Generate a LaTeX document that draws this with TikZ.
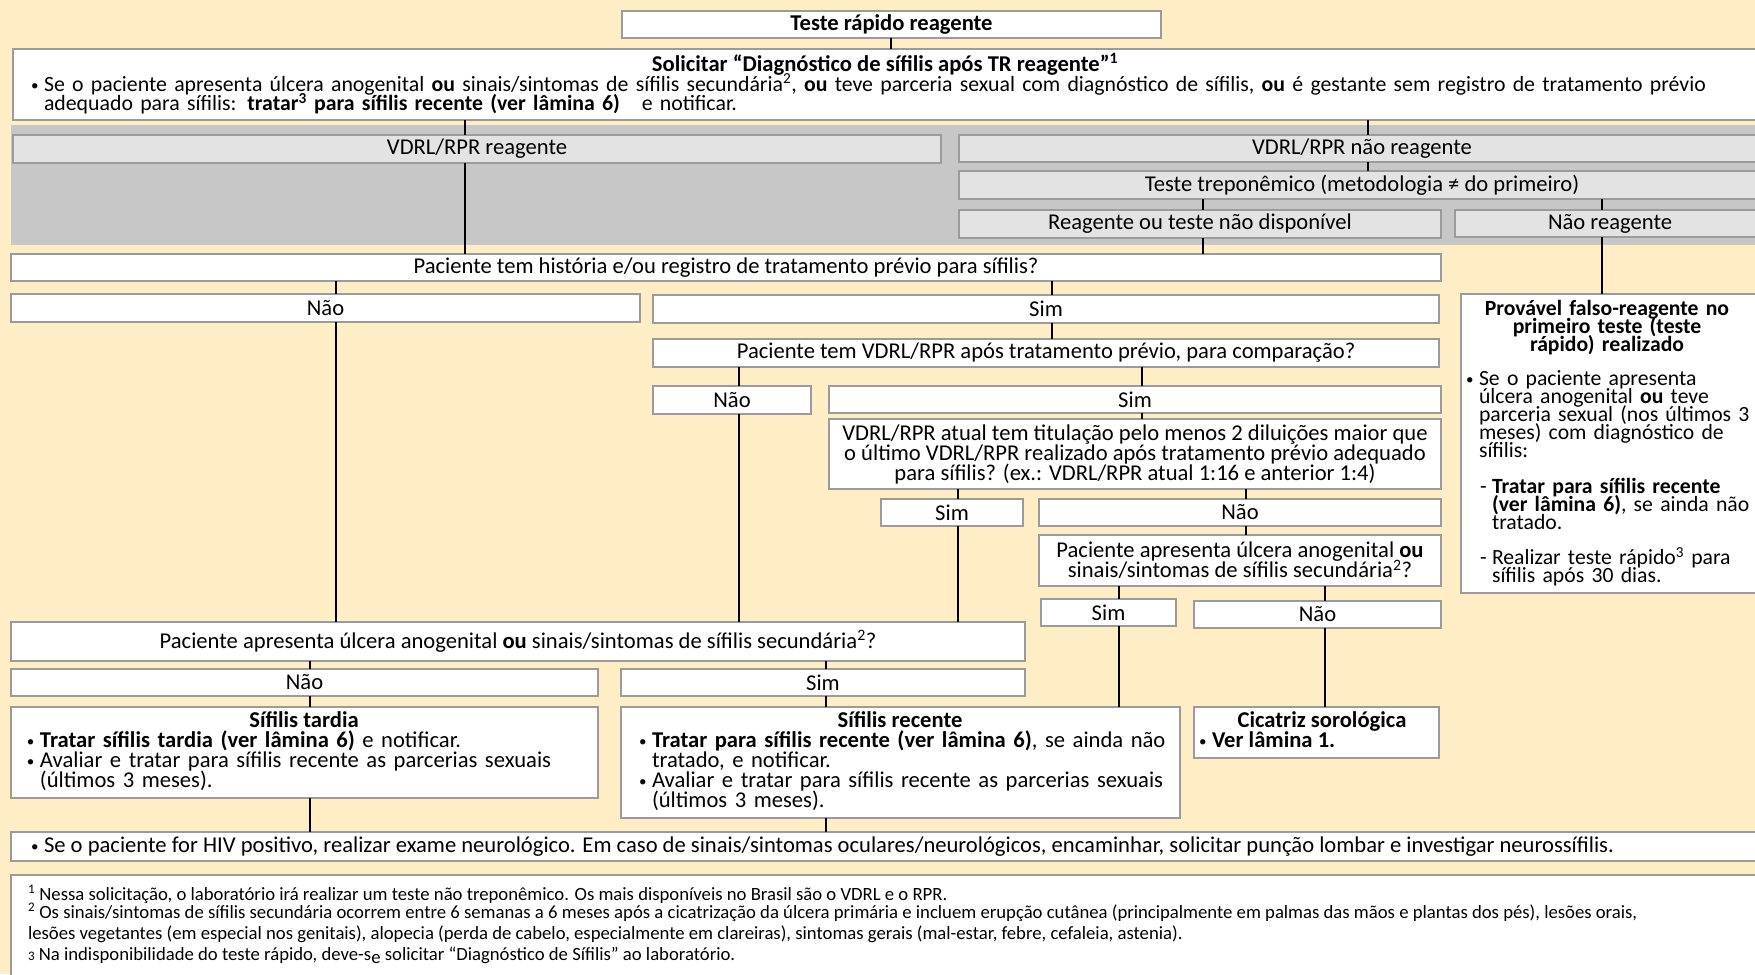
\documentclass[tikz,border=0pt]{standalone}
\usepackage{fontspec}
\setmainfont{Carlito}
\definecolor{cream}{RGB}{255,237,197}
\definecolor{bandgray}{RGB}{199,199,199}
\definecolor{boxgray}{RGB}{227,227,227}
\definecolor{edgegray}{RGB}{155,155,155}
\newcommand{\bul}{\makebox[13pt][l]{\raisebox{1pt}{\fontsize{15}{15}\selectfont •}}}
\newcommand{\bp}{\hangindent=13pt\hangafter=1\bul}
\newcommand{\dsh}{\hangindent=12pt\hangafter=1\makebox[12pt][l]{-}}
\newcommand{\sz}{\fontsize{22.6}{20}\selectfont\lineskiplimit=-50pt}
\newcommand{\szs}{\fontsize{21.8}{20}\selectfont\lineskiplimit=-50pt}
\newcommand{\szp}{\fontsize{21.7}{18.2}\selectfont\lineskiplimit=-50pt}
\newcommand{\szf}{\fontsize{18.7}{19}\selectfont}
\newcommand{\mkbox}[7][]{\node[boxbase,#1,minimum width={(#5-#3)*1pt},minimum height={(#6-#4)*1pt}] (#2) at ({(#3+#5)/2},{(#4+#6)/2}) {#7};}
\begin{document}
\begin{tikzpicture}[x=1pt,y=-1pt,
  boxbase/.style={draw=edgegray,line width=1.5pt,fill=white,inner sep=0pt,outer sep=0pt,font=\sz,align=center},
  graybox/.style={fill=boxgray},
  conn/.style={line width=2.8pt,black},
  txt/.style={inner sep=0pt,outer sep=0pt,font=\sz}]
\useasboundingbox (0,0) rectangle (1755,974);
\clip (0,0) rectangle (1755,974);
\fill[cream] (0,0) rectangle (1755,974);
% boxes
\mkbox{top}{622}{11}{1161}{38}{\bfseries Teste rápido reagente}
\mkbox{sol}{13}{49}{1765}{120}{}
\mkbox[draw=none,fill=bandgray]{band}{11}{125}{1765}{245}{}
\mkbox[graybox]{vr}{13}{135}{941}{163}{VDRL/RPR reagente}
\mkbox[graybox]{vnr}{959}{135}{1765}{162}{VDRL/RPR não reagente}
\mkbox[graybox]{trep}{959}{171}{1765}{199}{Teste treponêmico (metodologia ≠ do primeiro)}
\mkbox[graybox]{rond}{959}{210}{1441}{238}{Reagente ou teste não disponível}
\mkbox[graybox]{nr}{1455}{210}{1765}{237}{Não reagente}
\mkbox{hist}{11}{254}{1441}{281}{Paciente tem história e/ou registro de tratamento prévio para sífilis?}
\mkbox{hnao}{11}{294}{640}{322}{Não}
\mkbox{hsim}{653}{295}{1439}{323}{Sim}
\mkbox{comp}{653}{339}{1439}{367}{Paciente tem VDRL/RPR após tratamento prévio, para comparação?}
\mkbox{cnao}{653}{386}{811}{414}{Não}
\mkbox{csim}{829}{386}{1441}{413}{Sim}
\mkbox{tit}{829}{419}{1441}{489}{VDRL/RPR atual tem titulação pelo menos 2 diluições maior que\\ o último VDRL/RPR realizado após tratamento prévio adequado\\ para sífilis? (ex.: VDRL/RPR atual 1:16 e anterior 1:4)}
\mkbox{tsim}{881}{499}{1023}{526}{Sim}
\mkbox{tnao}{1039}{499}{1441}{526}{Não}
\mkbox{ulc}{1039}{535}{1441}{586}{Paciente apresenta úlcera anogenital \textbf{ou}\\ sinais/sintomas de sífilis secundária\textsuperscript{2}?}
\mkbox{usim}{1041}{599}{1176}{626}{Sim}
\mkbox{unao}{1194}{601}{1441}{628}{Não}
\mkbox{big}{11}{622}{1025}{661}{Paciente apresenta úlcera anogenital \textbf{ou} sinais/sintomas de sífilis secundária\textsuperscript{2}?}
\mkbox{bnao}{11}{669}{598}{696}{Não}
\mkbox{bsim}{621}{669}{1025}{696}{Sim}
\mkbox{tard}{11}{707}{598}{798}{}
\mkbox{rec}{621}{707}{1180}{818}{}
\mkbox{cic}{1194}{707}{1439}{758}{}
\mkbox{prov}{1461}{294}{1765}{593}{}
\mkbox{hiv}{11}{832}{1765}{861}{}
\mkbox{foot}{11}{875}{1765}{990}{}
% texts
\node[txt,anchor=base] (solt) at (885,71) {\bfseries Solicitar “Diagnóstico de sífilis após TR reagente”\textsuperscript{1}};
\node[txt,anchor=base west,text width=1740pt,align=left,font=\szs] (solb) at (31,91) {\bp Se o paciente apresenta úlcera anogenital \textbf{ou} sinais/sintomas de sífilis secundária\textsuperscript{2}, \textbf{ou} teve parceria sexual com diagnóstico de sífilis, \textbf{ou} é gestante sem registro de tratamento prévio\newline adequado para sífilis: \textbf{tratar\textsuperscript{3} para sífilis recente (ver lâmina 6)}~~ e notificar.\par};
\node[txt,anchor=base] (tardt) at (304,727) {\bfseries Sífilis tardia};
\node[txt,anchor=base west,text width=570pt,align=left] (tardb) at (27,747) {\bp\textbf{Tratar sífilis tardia (ver lâmina 6)} e notificar.\par\bp Avaliar e tratar para sífilis recente as parcerias sexuais\newline (últimos 3 meses).\par};
\node[txt,anchor=base] (rect) at (900,727) {\bfseries Sífilis recente};
\node[txt,anchor=base west,text width=540pt,align=left] (recb) at (639,747) {\bp\textbf{Tratar para sífilis recente (ver lâmina 6)}, se ainda não\newline tratado, e notificar.\par\bp Avaliar e tratar para sífilis recente as parcerias sexuais\newline (últimos 3 meses).\par};
\node[txt,anchor=base] (cict) at (1322,727) {\bfseries Cicatriz sorológica};
\node[txt,anchor=base west] (cicb) at (1199,747) {\bul\textbf{Ver lâmina 1.}};
\node[txt,anchor=base,text width=300pt,align=center,font=\szp\bfseries] (provt) at (1607,315) {Provável falso-reagente no\\ primeiro teste (teste\\ rápido) realizado};
\node[txt,anchor=base west,text width=300pt,align=left,font=\szp] (provb) at (1466,385) {\bp Se o paciente apresenta\newline úlcera anogenital \textbf{ou} teve\newline parceria sexual (nos últimos 3\newline meses) com diagnóstico de\newline sífilis:\par\vskip17pt\leftskip=14pt\dsh\textbf{Tratar para sífilis recente}\newline \textbf{(ver lâmina 6)}, se ainda não\newline tratado.\par\vskip17pt\dsh Realizar teste rápido\textsuperscript{3} para\newline sífilis após 30 dias.\par};
\node[txt,anchor=west] (hivt) at (31,846.5) {\bul Se o paciente for HIV positivo, realizar exame neurológico. Em caso de sinais/sintomas oculares/neurológicos, encaminhar, solicitar punção lombar e investigar neurossífilis.};
\node[txt,anchor=base west,font=\szf] (fn1) at (28,900) {\textsuperscript{1} Nessa solicitação, o laboratório irá realizar um teste não treponêmico. Os mais disponíveis no Brasil são o VDRL e o RPR.};
\node[txt,anchor=base west,font=\szf] (fn2) at (28,918) {\textsuperscript{2} Os sinais/sintomas de sífilis secundária ocorrem entre 6 semanas a 6 meses após a cicatrização da úlcera primária e incluem erupção cutânea (principalmente em palmas das mãos e plantas dos pés), lesões orais,};
\node[txt,anchor=base west,font=\szf] (fn3) at (28,939) {lesões vegetantes (em especial nos genitais), alopecia (perda de cabelo, especialmente em clareiras), sintomas gerais (mal-estar, febre, cefaleia, astenia).};
\node[txt,anchor=base west,font=\szf] (fn4) at (28,960) {{\fontsize{13}{13}\selectfont 3} Na indisponibilidade do teste rápido, deve-s\raisebox{-3pt}{e} solicitar “Diagnóstico de Sífilis” ao laboratório.};
% connector x positions
\coordinate (c1) at (891,0);
\coordinate (c2) at (465,0);
\coordinate (c3) at (1368,0);
\coordinate (c4) at (1203,0);
\coordinate (c5) at (1602,0);
\coordinate (c6) at (336,0);
\coordinate (c7) at (1052,0);
\coordinate (c8) at (739,0);
\coordinate (c9) at (1142,0);
\coordinate (c10) at (958,0);
\coordinate (c11) at (1246,0);
\coordinate (c12) at (1119,0);
\coordinate (c13) at (1325,0);
\coordinate (c14) at (310,0);
\coordinate (c15) at (826,0);
\draw[conn] (c1 |- top.south) -- (c1 |- sol.north);
\draw[conn] (c2 |- sol.south) -- (c2 |- vr.north);
\draw[conn] (c2 |- vr.south) -- (c2 |- hist.north);
\draw[conn] (c3 |- sol.south) -- (c3 |- vnr.north);
\draw[conn] (c3 |- vnr.south) -- (c3 |- trep.north);
\draw[conn] (c4 |- trep.south) -- (c4 |- rond.north);
\draw[conn] (c4 |- rond.south) -- (c4 |- hist.north);
\draw[conn] (c5 |- trep.south) -- (c5 |- nr.north);
\draw[conn] (c5 |- nr.south) -- (c5 |- prov.north);
\draw[conn] (c6 |- hist.south) -- (c6 |- hnao.north);
\draw[conn] (c6 |- hnao.south) -- (c6 |- big.north);
\draw[conn] (c7 |- hist.south) -- (c7 |- hsim.north);
\draw[conn] (c7 |- hsim.south) -- (c7 |- comp.north);
\draw[conn] (c8 |- comp.south) -- (c8 |- cnao.north);
\draw[conn] (c8 |- cnao.south) -- (c8 |- big.north);
\draw[conn] (c9 |- comp.south) -- (c9 |- csim.north);
\draw[conn] (c9 |- csim.south) -- (c9 |- tit.north);
\draw[conn] (c10 |- tit.south) -- (c10 |- tsim.north);
\draw[conn] (c10 |- tsim.south) -- (c10 |- big.north);
\draw[conn] (c11 |- tit.south) -- (c11 |- tnao.north);
\draw[conn] (c11 |- tnao.south) -- (c11 |- ulc.north);
\draw[conn] (c12 |- ulc.south) -- (c12 |- usim.north);
\draw[conn] (c12 |- usim.south) -- (c12 |- rec.north);
\draw[conn] (c13 |- ulc.south) -- (c13 |- unao.north);
\draw[conn] (c13 |- unao.south) -- (c13 |- cic.north);
\draw[conn] (c14 |- big.south) -- (c14 |- bnao.north);
\draw[conn] (c14 |- bnao.south) -- (c14 |- tard.north);
\draw[conn] (c14 |- tard.south) -- (c14 |- hiv.north);
\draw[conn] (c15 |- big.south) -- (c15 |- bsim.north);
\draw[conn] (c15 |- bsim.south) -- (c15 |- rec.north);
\draw[conn] (c15 |- rec.south) -- (c15 |- hiv.north);
\end{tikzpicture}
\end{document}
